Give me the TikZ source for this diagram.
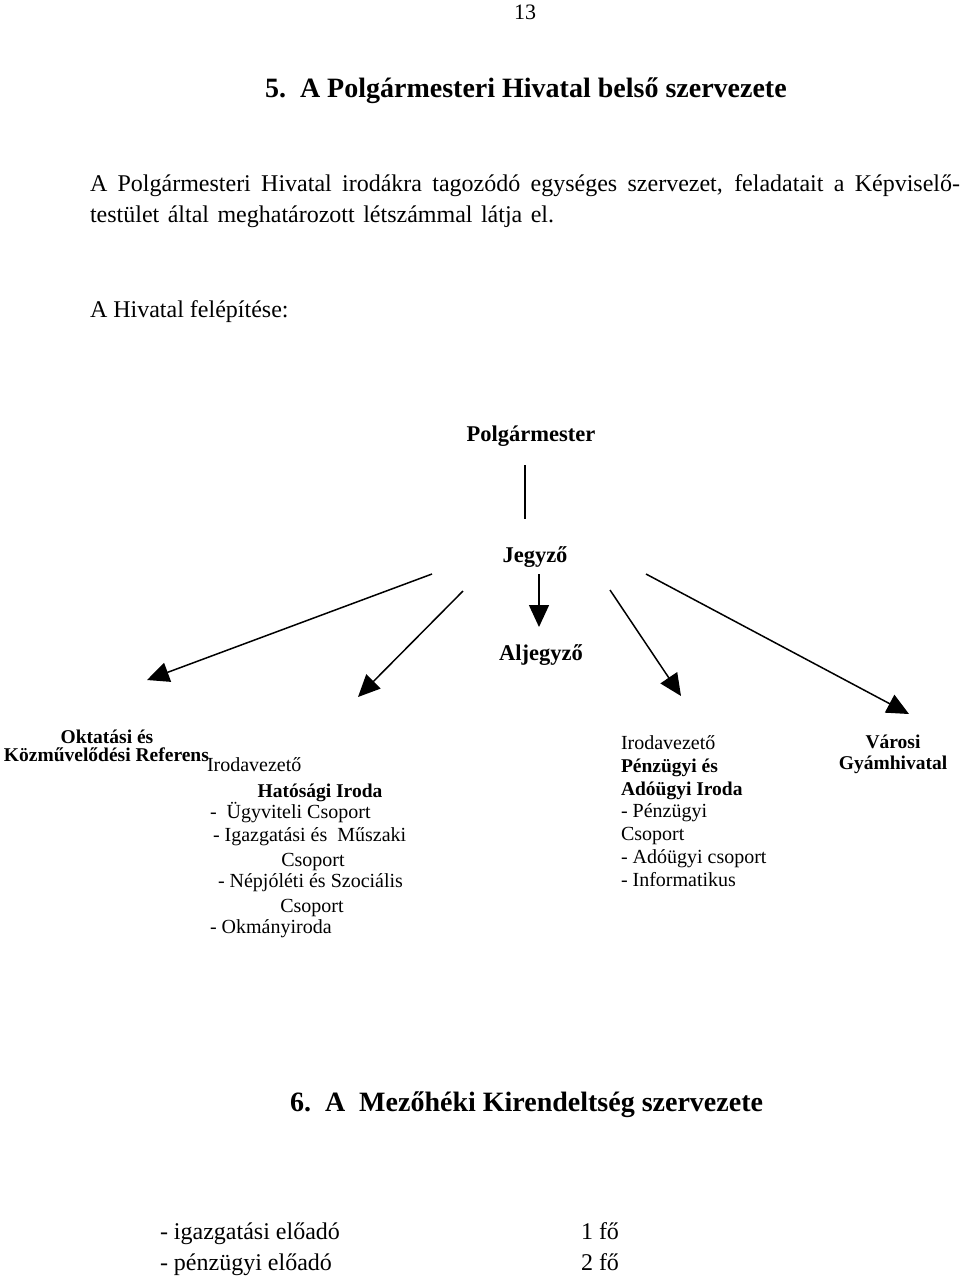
\documentclass[tikz,border=0pt]{standalone}
\usepackage{fontspec}
\setmainfont{Liberation Serif}
\usetikzlibrary{arrows.meta}
\begin{document}
\begin{tikzpicture}[x=1pt,y=-1pt,
  every node/.style={inner sep=0pt,outer sep=0pt,yshift=-2pt},
  body/.style={font=\fontsize{24}{31}\selectfont},
  head/.style={font=\fontsize{28}{32}\selectfont\bfseries},
  lab/.style={font=\fontsize{22.5}{26}\selectfont\bfseries},
  sub/.style={font=\fontsize{20}{23}\selectfont},
  subb/.style={font=\fontsize{19.5}{23}\selectfont\bfseries},
  arr/.style={line width=1.5pt,-{Triangle[length=22pt,width=20pt]}},
  plain/.style={line width=1.2pt}]
\useasboundingbox (0,0) rectangle (960,1280);
\fill[white] (0,0) rectangle (960,1280);

\node[body,font=\fontsize{22}{26}\selectfont] (pg) at (525,10) {13};
\node[head,anchor=mid west] (t5) at (265,93) {5.\ \ A Polgármesteri Hivatal belső szervezete};
\node[body,anchor=mid west] (p1) at (90,187) {\makebox[870pt][s]{A Polgármesteri Hivatal irodákra tagozódó egységes szervezet, feladatait a Képviselő-}};
\node[body,anchor=mid west] (p2) at (90,218) {\makebox[464pt][s]{testület által meghatározott létszámmal látja el.}};
\node[body,anchor=mid west] (p3) at (90,313) {A Hivatal felépítése:};

% chart
\node[lab] (pm) at (531,434) {Polgármester};
\node[lab] (jz) at (535,555) {Jegyző};
\node[lab] (al) at (541,653) {Aljegyző};

\coordinate (v1) at (525,463);
\coordinate (v2) at (525,517);
\draw[plain] (v1) -- (v2);

\coordinate (a0) at (539,572);
\coordinate (a0t) at (539,625);
\draw[arr] (a0) -- (a0t);

\coordinate (s1) at (432,572);
\coordinate (e1) at (147,678);
\coordinate (s2) at (463,589);
\coordinate (e2) at (358,695);
\coordinate (s3) at (610,588);
\coordinate (e3) at (681,694);
\coordinate (s4) at (646,572);
\coordinate (e4) at (909,712);
\draw[arr] (s1) -- (e1);
\draw[arr] (s2) -- (e2);
\draw[arr] (s3) -- (e3);
\draw[arr] (s4) -- (e4);

% left block
\node[subb] (ok1) at (107,735) {Oktatási és};
\node[subb,anchor=mid west] (ok2) at (4,757) {Közművelődési Referens};
\node[sub,anchor=mid west] (iv1) at (207,767) {Irodavezető};
\node[subb] (hi) at (320,791) {Hatósági Iroda};
\node[sub,anchor=mid west] (h1) at (210,814) {-\ \ Ügyviteli Csoport};
\node[sub,anchor=mid west] (h2) at (213,837) {- Igazgatási és\ \ Műszaki};
\node[sub] (h3) at (313,860) {Csoport};
\node[sub,anchor=mid west] (h4) at (218,883) {- Népjóléti és Szociális};
\node[sub] (h5) at (312,906) {Csoport};
\node[sub,anchor=mid west] (h6) at (210,929) {- Okmányiroda};

% right block
\node[sub,anchor=mid west] (r1) at (621,745) {Irodavezető};
\node[subb,anchor=mid west] (r2) at (621,768) {Pénzügyi és};
\node[subb,anchor=mid west] (r3) at (621,791) {Adóügyi Iroda};
\node[sub,anchor=mid west] (r4) at (621,813) {- Pénzügyi};
\node[sub,anchor=mid west] (r5) at (621,836) {Csoport};
\node[sub,anchor=mid west] (r6) at (621,859) {- Adóügyi csoport};
\node[sub,anchor=mid west] (r7) at (621,882) {- Informatikus};

\node[subb] (g1) at (893,740) {Városi};
\node[subb] (g2) at (893,763) {Gyámhivatal};

% section 6
\node[head,anchor=mid west] (t6) at (290,1107) {6.\ \ A\ \ Mezőhéki Kirendeltség szervezete};
\node[body,anchor=mid west] (b1) at (160,1235) {- igazgatási előadó};
\node[body,anchor=mid west] (b2) at (581,1235) {1 fő};
\node[body,anchor=mid west] (b3) at (160,1266) {- pénzügyi előadó};
\node[body,anchor=mid west] (b4) at (581,1266) {2 fő};
\end{tikzpicture}
\end{document}
